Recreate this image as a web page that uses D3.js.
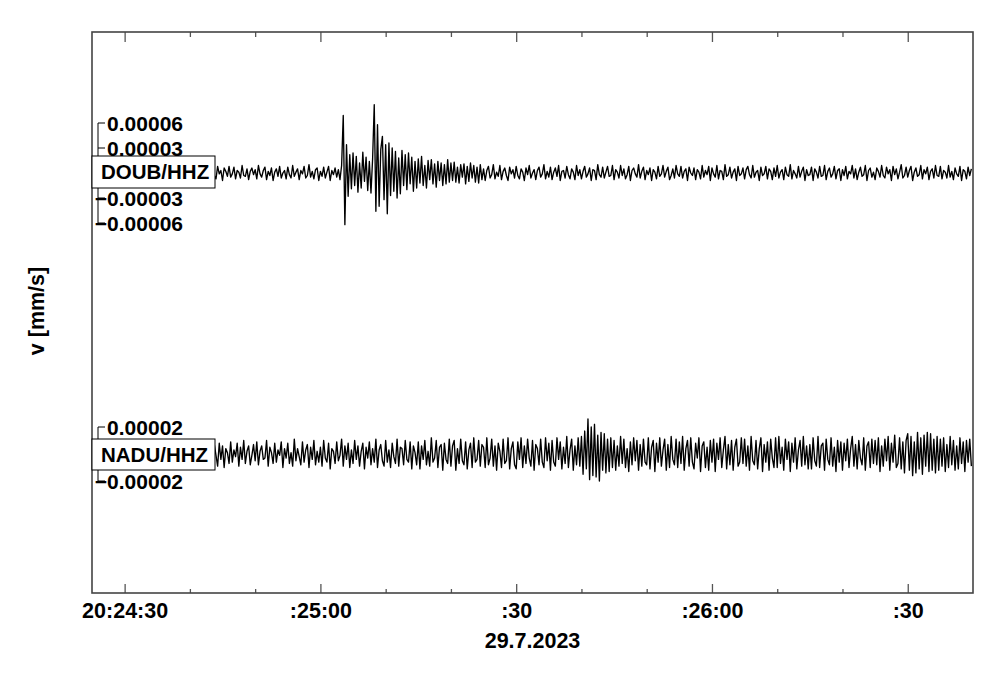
<!DOCTYPE html>
<html><head><meta charset="utf-8">
<script src="https://cdn.jsdelivr.net/npm/d3@7"></script>
<style>
body{margin:0;background:#fff}
svg{display:block}
text{font-family:Arial,"Liberation Sans",sans-serif;font-weight:bold;fill:#000}
</style>
</head><body>
<svg id="chart" width="1000" height="678"></svg>
<script>
// ---------------- data ----------------
const dateLabel = "29.7.2023";
const yAxisTitle = "v [mm/s]";
const startTime = "2023-07-29T20:24:25Z";
const endTime = "2023-07-29T20:26:40Z";
const sampleInterval = 0.25; // seconds between samples
const majorTickTimes = ["2023-07-29T20:24:30Z","2023-07-29T20:25:00Z","2023-07-29T20:25:30Z","2023-07-29T20:26:00Z","2023-07-29T20:26:30Z"];
const majorTickLabels = ["20:24:30", ":25:00", ":30", ":26:00", ":30"];
const minorTickSeconds = 10;
const stationNames = ["DOUB/HHZ", "NADU/HHZ"];
const doubTicks = [0.00006, 0.00003, -0.00003, -0.00006]; // mm/s
const naduTicks = [0.00002, -0.00002]; // mm/s
// trace samples in nm/s (1e-6 mm/s)
const doubValues = [
3,-8,2,6,-4,-1,9,-6,1,-3,7,-9,4,0,-5,8,-2,-7,5,-3,
-1,6,-9,4,2,-5,10,-3,-6,1,7,-4,-8,3,5,-2,9,-7,0,4,
-6,8,-2,3,-9,5,1,-4,7,-8,2,6,-3,-5,10,-1,-7,4,-2,8,
-4,1,7,-9,3,-2,6,-6,0,9,-5,2,-8,4,5,-3,-7,8,-1,3,
-9,6,2,-4,8,-5,-1,7,-7,3,1,-6,9,-3,-4,5,-8,2,6,-2,
4,-7,9,-1,-5,3,7,-8,2,-3,6,-9,1,5,-4,8,-6,0,3,-7,
7,-2,-6,9,-4,1,5,-8,3,-1,8,-6,-3,10,-5,2,-7,4,6,-9,
2,-4,7,-6,1,8,-9,3,-2,6,-5,4,-8,9,69,-62,34,-28,22,-19,
24,-15,20,-23,12,-18,25,-10,19,-21,14,-24,17,82,-46,58,-40,28,44,-32,
34,-49,36,-27,30,-22,26,-30,18,-25,27,-15,22,-20,24,-13,19,-22,14,-18,
17,-12,20,-15,9,-18,15,-8,16,-13,11,-17,14,-9,12,-15,10,-13,16,-11,
12,-9,13,-11,7,-12,10,-5,11,-13,8,-10,12,-6,9,-11,7,-12,10,-8,
5,-9,3,8,-6,-2,10,-7,1,-4,9,-8,2,6,-3,-9,7,-1,4,-6,
8,-3,-7,5,1,-9,6,-2,9,-6,0,4,-8,3,7,-5,-1,10,-7,2,
-5,7,-8,1,6,-4,9,-9,2,3,-6,8,-2,-7,5,1,-8,9,-3,4,
-7,2,8,-5,-1,6,-9,4,3,-8,10,-2,-5,7,-6,1,8,-4,-3,9,
-8,4,1,-6,9,-3,5,-7,-2,8,-9,3,6,-1,-5,10,-6,2,7,-8,
3,-2,6,-9,4,1,-7,8,-4,-1,9,-5,2,7,-8,-3,5,-6,9,-1,
-4,8,-6,2,5,-9,7,0,-3,6,-8,4,1,-7,9,-5,3,-2,8,-9,
6,-1,-5,9,-7,3,2,-8,10,-4,-2,7,-6,1,5,-9,8,-3,-1,6,
-7,4,8,-2,-6,9,-5,1,3,-9,7,-3,-1,8,-7,5,2,-8,6,-4,
9,-6,1,4,-8,7,-2,-4,10,-7,3,-1,-6,8,-5,2,7,-9,4,-3,
-2,7,-9,5,1,-6,8,-4,-3,9,-8,2,6,-5,-1,8,-7,3,5,-9,
4,-3,8,-7,2,-1,9,-6,5,-8,1,7,-4,-2,9,-9,3,6,-5,1,
-8,6,2,-5,9,-3,-6,7,-1,4,-9,8,-2,5,-7,1,10,-6,-3,7,
-5,3,8,-9,1,6,-4,-2,9,-7,4,-1,7,-8,2,5,-6,9,-3,-4,
8,-7,3,1,-6,9,-5,2,-8,6,-1,-4,8,-9,4,2,-7,7,-3,5
];
const naduValues = [
4,-9,2,7,-5,-1,10,-6,3,-8,6,-2,-7,9,-3,1,8,-10,5,-4,
-2,8,-7,3,-10,6,1,-5,9,-8,2,7,-4,-1,10,-9,4,-3,6,-6,
9,-4,-1,6,-9,5,2,-8,7,-3,10,-6,-2,4,-8,9,-5,1,7,-10,
3,-6,8,-2,-7,10,-4,5,-9,1,6,-8,9,-3,-5,7,-1,-9,8,-4,
6,-10,4,1,-7,9,-6,3,-2,8,-9,5,-4,10,-7,2,6,-8,-1,7,
-5,9,-8,2,6,-4,-3,10,-9,5,1,-7,8,-6,3,-1,9,-10,4,-3,
8,-7,1,-9,11,-5,4,-2,-8,9,-6,3,7,-10,5,-4,10,-8,2,-6,
5,-9,10,-3,-6,8,-11,4,2,-7,9,-5,-1,11,-9,6,-4,8,-10,3,
-7,10,-4,6,-9,2,8,-11,5,-3,9,-8,4,-6,11,-10,3,7,-5,-9,
10,-6,3,-10,8,-2,-7,11,-9,5,4,-8,10,-4,-6,9,-11,6,1,-8,
9,-11,6,-4,10,-8,2,-9,12,-6,-3,10,-10,5,7,-12,8,-4,-7,11,
-9,6,10,-12,4,-7,11,-5,-8,9,-11,3,8,-10,12,-6,-4,10,-9,7,
5,-10,12,-8,-3,11,-9,6,-12,8,2,-10,11,-7,-5,12,-11,4,9,-8,
-11,9,-4,12,-10,6,-7,11,-3,-9,10,-12,7,4,-8,11,-6,-10,12,-5,
8,-12,10,-6,-9,12,-4,9,-11,5,-7,13,-10,3,11,-12,6,-8,12,-9,
13,-15,17,-11,26,-19,20,-16,22,-17,14,-20,16,-12,15,-14,11,-13,12,-10,
10,-12,6,-9,13,-7,11,-10,4,-13,9,-8,12,-5,10,-12,7,-9,11,-6,
-8,12,-11,5,10,-13,8,-6,12,-9,3,11,-12,7,-10,13,-4,-8,11,-10,
9,-7,13,-12,4,10,-9,12,-6,-11,8,-3,12,-13,6,9,-10,5,-12,10,
-6,11,-13,8,-4,12,-10,3,13,-11,7,-8,10,-12,5,11,-9,-6,12,-7,
11,-9,6,-12,13,-5,-8,10,-11,4,12,-13,7,-6,9,-12,11,-3,-10,12,
-10,13,-7,5,-12,11,-4,9,-13,8,-6,12,-11,3,10,-9,13,-8,6,-11,
7,-11,12,-5,-9,13,-10,6,8,-12,11,-4,-8,12,-9,5,-13,10,-6,9,
-12,8,-5,11,-10,4,13,-9,7,-11,10,-3,-8,12,-12,6,9,-10,11,-7,
10,-8,12,-13,6,-9,11,-5,13,-12,8,-6,14,-10,-7,12,-11,9,-14,10,
15,-12,13,-16,9,-14,16,-11,12,-15,14,-9,16,-13,15,-12,11,-14,13,-12,
11,-9,12,-13,7,-10,13,-8,10,-12,6,-11,12,-7,9,-13,10,-6,11,-9
];

// ---------------- layout ----------------
const svg = d3.select("#chart");
const L = 92, R = 973, T = 32, B = 593;
const FS_AXIS = 21.5, FS_AMP = 21, FS_BOX = 20.5;
const t0 = new Date(startTime), t1 = new Date(endTime);
const x = d3.scaleUtc().domain([t0, t1]).range([L, R]);
const majorDates = majorTickTimes.map(s => new Date(s));
const minorDates = d3.utcSecond.every(minorTickSeconds).range(t0, t1)
  .filter(d => !majorDates.some(m => +m === +d));

const traces = [
  {name: stationNames[0], values: doubValues, ticks: doubTicks,
   y: d3.scaleLinear().domain([-0.00006, 0.00006]).range([223, 123]), boxTop: 156, boxH: 32},
  {name: stationNames[1], values: naduValues, ticks: naduTicks,
   y: d3.scaleLinear().domain([-0.00002, 0.00002]).range([481, 427]), boxTop: 439, boxH: 31}
];

svg.append("defs").append("clipPath").attr("id", "plotclip")
  .append("rect").attr("x", L).attr("y", T).attr("width", R - L).attr("height", B - T);

// traces
const traceG = svg.append("g").attr("clip-path", "url(#plotclip)");
traces.forEach(tr => {
  const line = d3.line()
    .x((d, i) => x(new Date(+t0 + i * sampleInterval * 1000)))
    .y(d => tr.y(d * 1e-6));
  traceG.append("path").datum(tr.values)
    .attr("d", line).attr("fill", "none")
    .attr("stroke", "#000").attr("stroke-width", 1.35).attr("stroke-linejoin", "round");
});

// axes (ticks inside the frame)
function styleAxis(g){
  g.select(".domain").remove();
  g.selectAll(".tick line").attr("stroke", "#555").attr("stroke-width", 1.3);
  g.selectAll("text").attr("font-size", FS_AXIS).attr("font-family", "Arial, 'Liberation Sans', sans-serif").attr("font-weight", "bold").attr("fill", "#000");
}
svg.append("g").attr("transform", `translate(0,${B})`)
  .call(d3.axisBottom(x).tickValues(minorDates).tickSize(-4).tickFormat(""))
  .call(styleAxis);
svg.append("g").attr("transform", `translate(0,${B})`)
  .call(d3.axisBottom(x).tickValues(majorDates).tickSize(-9).tickPadding(10)
    .tickFormat((d, i) => majorTickLabels[i]))
  .call(styleAxis);
svg.append("g").attr("transform", `translate(0,${T})`)
  .call(d3.axisTop(x).tickValues(minorDates).tickSize(-5).tickFormat(""))
  .call(styleAxis);
svg.append("g").attr("transform", `translate(0,${T})`)
  .call(d3.axisTop(x).tickValues(majorDates).tickSize(-10).tickFormat(""))
  .call(styleAxis);

// frame
svg.append("rect").attr("x", L).attr("y", T).attr("width", R - L).attr("height", B - T)
  .attr("fill", "none").attr("stroke", "#444").attr("stroke-width", 1.6);

// amplitude brackets, tick labels and station boxes
const fmt = d3.format(".5f");
traces.forEach(tr => {
  const g = svg.append("g");
  const ys = tr.ticks.map(v => tr.y(v));
  g.append("line").attr("x1", 98).attr("x2", 98)
    .attr("y1", d3.min(ys)).attr("y2", d3.max(ys))
    .attr("stroke", "#000").attr("stroke-width", 1);
  tr.ticks.forEach(v => {
    g.append("line").attr("x1", 98).attr("x2", 105)
      .attr("y1", tr.y(v)).attr("y2", tr.y(v))
      .attr("stroke", "#000").attr("stroke-width", 1);
    g.append("text").attr("x", 183).attr("y", tr.y(v)).attr("dy", "0.36em")
      .attr("text-anchor", "end").attr("font-size", FS_AMP).text(fmt(v));
  });
  g.append("rect").attr("x", L).attr("y", tr.boxTop).attr("width", 123).attr("height", tr.boxH)
    .attr("fill", "#fff").attr("stroke", "#000").attr("stroke-width", 1);
  g.append("text").attr("x", L + 9).attr("y", tr.boxTop + tr.boxH / 2).attr("dy", "0.36em")
    .attr("font-size", FS_BOX).text(tr.name);
});

// titles
svg.append("text").attr("x", (L + R) / 2).attr("y", 648).attr("text-anchor", "middle")
  .attr("font-size", FS_AXIS).text(dateLabel);
svg.append("text").attr("transform", "translate(44,311) rotate(-90)")
  .attr("text-anchor", "middle").attr("font-size", FS_AXIS).text(yAxisTitle);
</script>
</body></html>
